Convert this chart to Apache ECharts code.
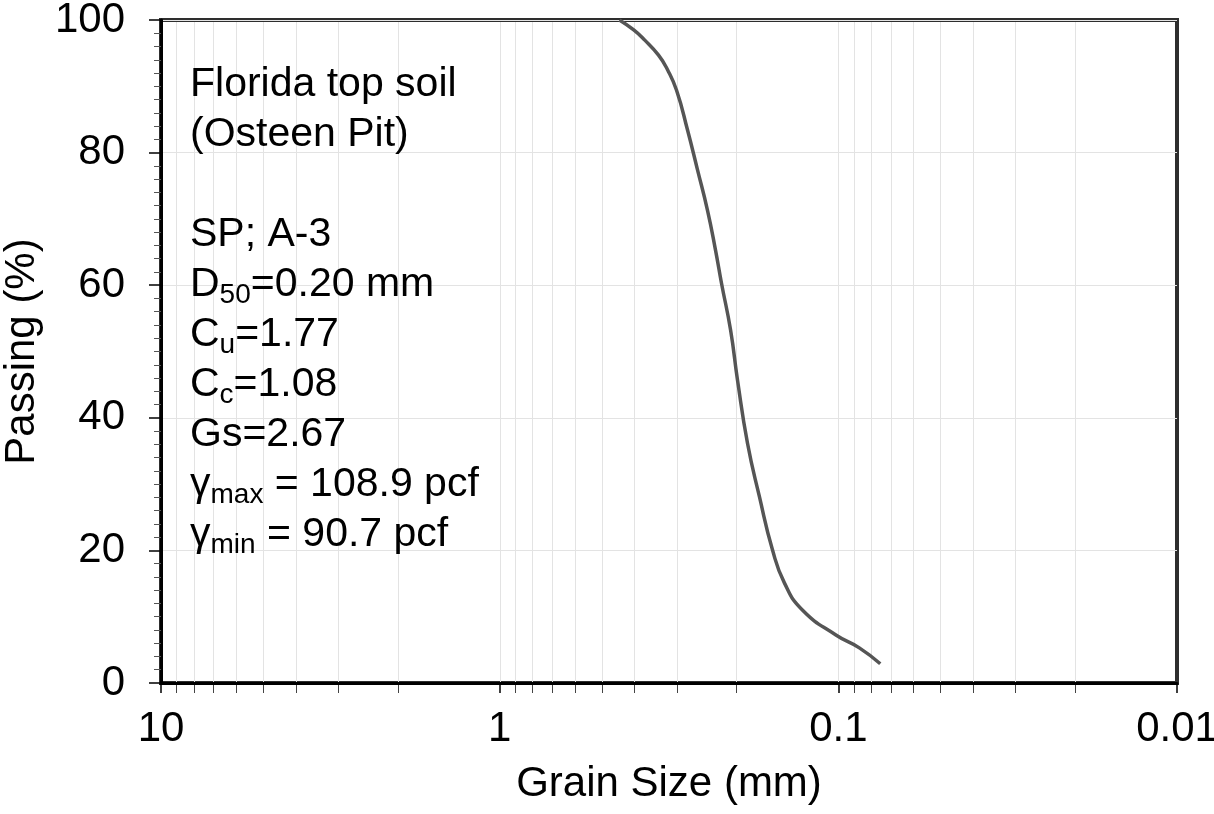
<!DOCTYPE html>
<html>
<head>
<meta charset="utf-8">
<title>Grain size distribution</title>
<script src="https://cdn.jsdelivr.net/npm/echarts@6/dist/echarts.min.js"></script>
<style>
  html, body { margin: 0; padding: 0; background: #fff; }
  #chart { width: 1214px; height: 814px; }
</style>
</head>
<body>
<div id="chart"></div>
<script>
// Gradation curve: grain size (mm) vs percent passing
const grainSizes = [0.443, 0.402, 0.3735, 0.3396, 0.3194, 0.3004, 0.2788, 0.2605, 0.2434, 0.2305, 0.2213, 0.208, 0.1985, 0.1855, 0.1710, 0.1565, 0.1443, 0.1277, 0.1014, 0.0867, 0.0752];
const passing    = [100,   98.5,  97.0,   94.7,   92.5,   89.4,   83.4,   77.4,   71.3,   65.3,   60.3,   53.2,  45.7,   36.2,   28.1,   20.1,   15.1,   11.0,   7.2,    5.3,    2.9];

// Axis ranges and tick labels
const xMin = 0.01, xMax = 10;
const xTickLabels = ['0.01', '0.1', '1', '10'];
const yTicks = [0, 20, 40, 60, 80, 100];

// Soil description block (rich-text lines)
const noteLines = [
  '{t|Florida top soil}',
  '{t|(Osteen Pit)}',
  '{t| }',
  '{t|SP; A-3}',
  '{t|D}{s|50}{t|=0.20 mm}',
  '{t|C}{s|u}{t|=1.77}',
  '{t|C}{s|c}{t|=1.08}',
  '{t|Gs=2.67}',
  '{t|γ}{s|max}{t| = 108.9 pcf}',
  '{t|γ}{s|min}{t| = 90.7 pcf}'
];

const FONT = "'Liberation Sans', Arial, sans-serif";
const AXIS_FONT = 42;

// Log-decade grid positions: 2..9 in each decade plus interior decade lines
const decadeStarts = [0.01, 0.1, 1];
const logGrid = [];
decadeStarts.forEach(function (d) {
  for (let k = 1; k <= 9; k++) {
    const v = +(d * k).toPrecision(3);
    if (v > xMin && v < xMax) logGrid.push([v, 0, k === 1 ? 1 : 0]);
  }
});

const curve = grainSizes.map(function (g, i) { return [g, passing[i]]; });

const chart = echarts.init(document.getElementById('chart'), null, { renderer: 'canvas' });

chart.setOption({
  backgroundColor: '#ffffff',
  animation: false,
  textStyle: { fontFamily: FONT },
  grid: {
    left: 161, right: 37, top: 20, bottom: 131,
    outerBoundsMode: 'none',
    containLabel: false,
    show: true, borderColor: '#2e2e2e', borderWidth: 4, backgroundColor: 'transparent'
  },
  xAxis: {
    type: 'log',
    logBase: 10,
    min: xMin,
    max: xMax,
    inverse: true,
    name: 'Grain Size (mm)',
    nameLocation: 'middle',
    nameGap: 80,
    nameTextStyle: { fontSize: AXIS_FONT, color: '#000', fontFamily: FONT },
    axisLine: { show: true, onZero: false, lineStyle: { color: '#000', width: 3 } },
    axisTick: { show: true, length: 10, lineStyle: { color: '#000', width: 1.5 } },
    axisLabel: {
      fontSize: AXIS_FONT, color: '#000', margin: 25, fontFamily: FONT,
      formatter: function (v) {
        const idx = Math.round(Math.log10(v)) + 2;
        return xTickLabels[idx] !== undefined ? xTickLabels[idx] : '';
      }
    },
    splitLine: { show: false },
    minorTick: { show: false }
  },
  yAxis: {
    type: 'value',
    min: yTicks[0],
    max: yTicks[yTicks.length - 1],
    interval: 20,
    name: 'Passing (%)',
    nameLocation: 'middle',
    nameGap: 118,
    nameTextStyle: { fontSize: AXIS_FONT, color: '#000', fontFamily: FONT },
    axisLine: { show: true, lineStyle: { color: '#000', width: 3 } },
    axisTick: { show: true, length: 12, lineStyle: { color: '#000', width: 1.5 } },
    minorTick: { show: true, splitNumber: 10, length: 7, lineStyle: { color: '#555', width: 1 } },
    axisLabel: { fontSize: AXIS_FONT, color: '#000', margin: 36, fontFamily: FONT },
    splitLine: { show: true, lineStyle: { color: '#e3e3e3', width: 1 } }
  },
  graphic: [{
    type: 'text',
    left: 190,
    top: 64,
    z: 100,
    style: {
      text: noteLines.join('\n'),
      fill: '#000',
      font: '41px ' + FONT,
      rich: {
        t: { fontSize: 41, fontFamily: FONT, lineHeight: 50, fill: '#000' },
        s: { fontSize: 28, fontFamily: FONT, lineHeight: 24, verticalAlign: 'bottom', fill: '#000' }
      }
    }
  }],
  series: [
    {
      // vertical log grid lines and minor ticks along the x axis
      type: 'custom',
      coordinateSystem: 'cartesian2d',
      data: logGrid,
      clip: false,
      silent: true,
      z: 0,
      renderItem: function (params, api) {
        const v = api.value(0);
        const isMajor = api.value(2) === 1;
        const top = api.coord([v, 100]);
        const bot = api.coord([v, 0]);
        const x = Math.round(top[0]) + 0.5;
        const children = [{
          type: 'line',
          shape: { x1: x, y1: top[1] + 2, x2: x, y2: bot[1] - 1 },
          style: { stroke: '#e3e3e3', lineWidth: 1 }
        }];
        if (!isMajor) {
          children.push({
            type: 'line',
            shape: { x1: x, y1: bot[1], x2: x, y2: bot[1] + 10 },
            style: { stroke: '#444', lineWidth: 1 }
          });
        }
        return { type: 'group', children: children };
      }
    },
    {
      type: 'line',
      data: curve,
      smooth: 0.5,
      showSymbol: false,
      symbol: 'none',
      z: 5,
      lineStyle: { color: '#555555', width: 3.5 }
    }
  ]
});
</script>
</body>
</html>
